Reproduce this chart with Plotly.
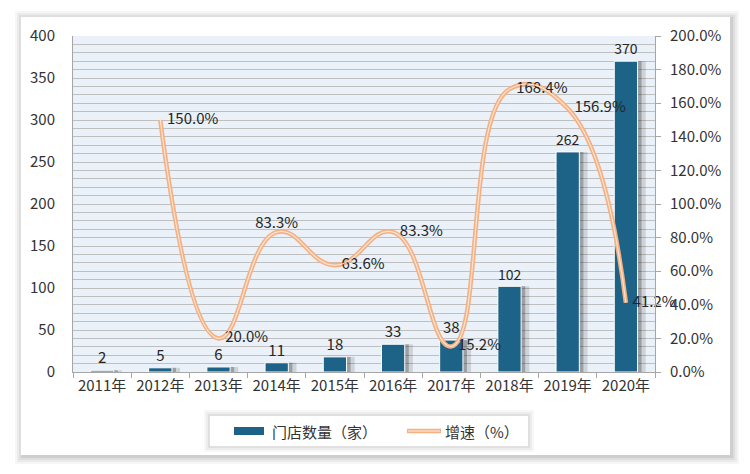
import plotly.graph_objects as go

years = ["2011年", "2012年", "2013年", "2014年", "2015年", "2016年", "2017年", "2018年", "2019年", "2020年"]
stores = [2, 5, 6, 11, 18, 33, 38, 102, 262, 370]
growth = [None, 150.0, 20.0, 83.3, 63.6, 83.3, 15.2, 168.4, 156.9, 41.2]
growth_pos = ["middle right", "middle right", "middle right", "top center", "middle right",
              "middle right", "middle right", "middle right", "middle right", "middle right"]
legend_names = ["门店数量（家）", "增速（%）"]

FONT = "Noto Sans CJK SC"
BAR = "#1D6387"
LINE = "#F4B183"
LINE_IN = "#FCE3D2"

# plot-area pixel geometry (for paper-referenced decorations)
L, R, T, B = 73, 655, 36, 372


def px(x):
    return (x - L) / (R - L)


def py(y):
    return (B - y) / (B - T)


fig = go.Figure()

# bar shadows
fig.add_trace(go.Bar(x=years, y=stores, width=0.5, offset=-0.16, marker_color="rgba(0,0,0,0.12)",
                     marker_line_width=0, showlegend=False, hoverinfo="skip"))
fig.add_trace(go.Bar(x=years, y=stores, width=0.44, offset=-0.17, marker_color="rgba(0,0,0,0.24)",
                     marker_line_width=0, showlegend=False, hoverinfo="skip"))
# bars
fig.add_trace(go.Bar(x=years, y=stores, width=0.4, offset=-0.2, name=legend_names[0],
                     marker=dict(color=BAR, line=dict(color="white", width=1)),
                     text=[str(v) for v in stores], textposition="outside",
                     textfont=dict(family=FONT, size=15, color="#262626"), cliponaxis=False,
                     showlegend=False))


def lab(v, pos):
    if v is None:
        return ""
    s = f"{v:.1f}%"
    return "  " + s if pos == "middle right" else s


# line (outer + inner)
fig.add_trace(go.Scatter(x=years, y=growth, yaxis="y2", mode="lines+text", name=legend_names[1],
                         line=dict(color=LINE, width=4.5, shape="spline", smoothing=1.3),
                         text=[lab(v, p) for v, p in zip(growth, growth_pos)],
                         textposition=growth_pos,
                         textfont=dict(family=FONT, size=15, color="#262626"), cliponaxis=False,
                         showlegend=False))
fig.add_trace(go.Scatter(x=years, y=growth, yaxis="y2", mode="lines", showlegend=False,
                         line=dict(color=LINE_IN, width=1.2, shape="spline", smoothing=1.3),
                         hoverinfo="skip", cliponaxis=False))

shapes = []
# card shadow
for d, op in [(9, 0.035), (7, 0.045), (5, 0.055), (3, 0.07)]:
    shapes.append(dict(type="rect", xref="paper", yref="paper", layer="below",
                       x0=px(21 - d + 3), x1=px(730 + d), y0=py(455 + d), y1=py(17 - d + 3),
                       fillcolor=f"rgba(0,0,0,{op})", line=dict(width=0)))
shapes.append(dict(type="rect", xref="paper", yref="paper", layer="below",
                   x0=px(21), x1=px(730), y0=py(455), y1=py(17),
                   fillcolor="white", line=dict(width=0)))
# plot area background
shapes.append(dict(type="rect", xref="paper", yref="paper", layer="below",
                   x0=0, x1=1, y0=0, y1=1, fillcolor="#EAF1F8", line=dict(width=0)))
# legend shadow box
for d, op in [(6, 0.03), (4, 0.04), (2, 0.05)]:
    shapes.append(dict(type="rect", xref="paper", yref="paper", layer="below",
                       x0=px(210 - d), x1=px(528 + d), y0=py(446 + d), y1=py(416 - d),
                       fillcolor=f"rgba(0,0,0,{op})", line=dict(width=0)))
shapes.append(dict(type="rect", xref="paper", yref="paper", layer="below",
                   x0=px(210), x1=px(528), y0=py(446), y1=py(416),
                   fillcolor="white", line=dict(width=0)))
# legend swatches
shapes.append(dict(type="rect", xref="paper", yref="paper", layer="above",
                   x0=px(234), x1=px(264), y0=py(435), y1=py(427),
                   fillcolor=BAR, line=dict(width=0)))
shapes.append(dict(type="line", xref="paper", yref="paper", layer="above",
                   x0=px(407), x1=px(441), y0=py(431), y1=py(431),
                   line=dict(color=LINE, width=4.5)))
shapes.append(dict(type="line", xref="paper", yref="paper", layer="above",
                   x0=px(408), x1=px(440), y0=py(431), y1=py(431),
                   line=dict(color=LINE_IN, width=1.2)))

annotations = [
    dict(xref="paper", yref="paper", x=px(270), y=py(431), xanchor="left", yanchor="middle",
         text=legend_names[0], showarrow=False, font=dict(family=FONT, size=15, color="#333333")),
    dict(xref="paper", yref="paper", x=px(443), y=py(431), xanchor="left", yanchor="middle",
         text=legend_names[1], showarrow=False, font=dict(family=FONT, size=15, color="#333333")),
]

fig.update_layout(
    width=750, height=474,
    margin=dict(l=L, r=750 - R, t=T, b=474 - B),
    paper_bgcolor="white", plot_bgcolor="rgba(0,0,0,0)",
    barmode="overlay",
    font=dict(family=FONT, size=15, color="#333333"),
    shapes=shapes,
    annotations=annotations,
    showlegend=False,
    xaxis=dict(type="category", showline=True, linecolor="#A6A6A6", linewidth=1,
               ticks="outside", ticklen=5, tickcolor="#A6A6A6", tickson="boundaries",
               tickfont=dict(family=FONT, size=15, color="#333333"), showgrid=False),
    yaxis=dict(range=[0, 400], dtick=50, showline=True, linecolor="#A6A6A6",
               showgrid=True, gridcolor="#BFBFBF", gridwidth=1,
               minor=dict(dtick=10, showgrid=True, gridcolor="#BFBFBF", gridwidth=1),
               ticks="", ticklabelstandoff=14, zeroline=False,
               tickfont=dict(family=FONT, size=15, color="#333333")),
    yaxis2=dict(range=[0, 200], dtick=20, overlaying="y", side="right", showline=True,
                linecolor="#A6A6A6", ticks="outside", ticklen=5, tickcolor="#A6A6A6",
                tickformat=".1f", ticksuffix="%", showgrid=False, zeroline=False,
                ticklabelstandoff=6,
                tickfont=dict(family=FONT, size=15, color="#333333")),
)

fig.write_html("out.html")
